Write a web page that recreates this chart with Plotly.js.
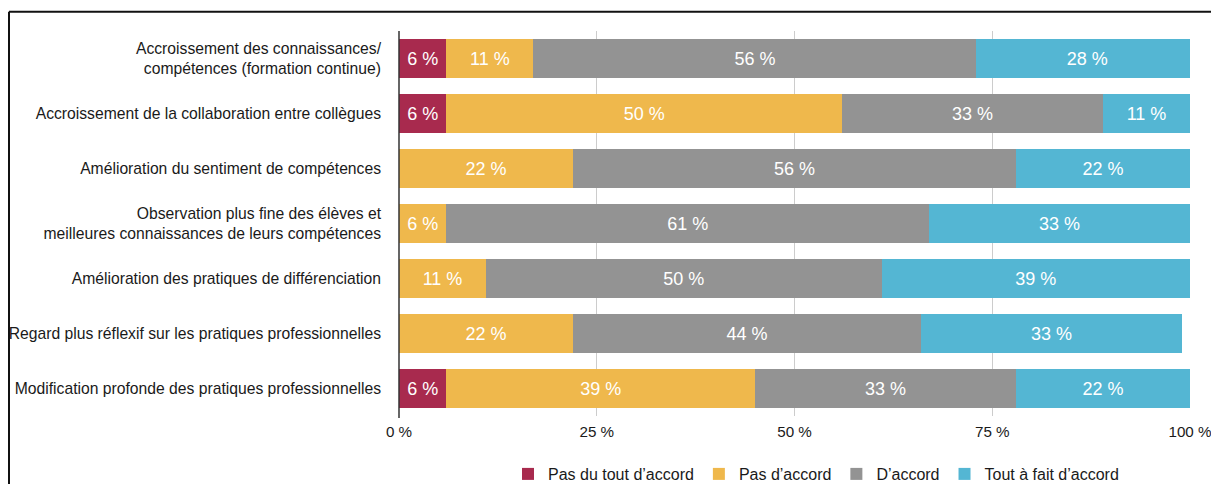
<!DOCTYPE html>
<html>
<head>
<meta charset="utf-8">
<script src="https://cdn.plot.ly/plotly-3.0.1.min.js"></script>
<style>
html,body{margin:0;padding:0;background:#fff;overflow:hidden;}
#chart{width:1211px;height:484px;}
</style>
</head>
<body>
<div id="chart"></div>
<script>
const categories = [
  "Accroissement des connaissances/<br>compétences (formation continue)",
  "Accroissement de la collaboration entre collègues",
  "Amélioration du sentiment de compétences",
  "Observation plus fine des élèves et<br>meilleures connaissances de leurs compétences",
  "Amélioration des pratiques de différenciation",
  "Regard plus réflexif sur les pratiques professionnelles",
  "Modification profonde des pratiques professionnelles"
];
const pasDuTout = [6, 6, null, null, null, null, 6];
const pasDaccord = [11, 50, 22, 6, 11, 22, 39];
const dAccord = [56, 33, 56, 61, 50, 44, 33];
const toutAFait = [28, 11, 22, 33, 39, 33, 22];
const seriesNames = ["Pas du tout d’accord", "Pas d’accord", "D’accord", "Tout à fait d’accord"];
const tickVals = [0, 25, 50, 75, 100];
const tickText = ["0 %", "25 %", "50 %", "75 %", "100 %"];

const colors = ["#A82A4E", "#EFB84C", "#939393", "#54B6D3"];
const seriesData = [pasDuTout, pasDaccord, dAccord, toutAFait];

const traces = seriesData.map((vals, i) => ({
  type: "bar",
  orientation: "h",
  name: seriesNames[i],
  y: categories,
  x: vals,
  text: vals.map(v => v == null ? "" : v + " %"),
  textposition: "inside",
  insidetextanchor: "middle",
  textangle: 0,
  constraintext: "none",
  insidetextfont: {color: "#ffffff", size: 18, family: "Liberation Sans, Arial, sans-serif"},
  marker: {color: colors[i], line: {width: 0}},
  hoverinfo: "skip"
}));

const P = (px) => (px - 399) / 791;
const Q = (py) => (414 - py) / 382;

const layout = {
  width: 1211,
  height: 484,
  margin: {l: 399, r: 21, t: 31, b: 68, autoexpand: false},
  paper_bgcolor: "#ffffff",
  plot_bgcolor: "#ffffff",
  barmode: "stack",
  bargap: 0.3,
  font: {family: "Liberation Sans, Arial, sans-serif", size: 15.7, color: "#1a1a1a"},
  showlegend: true,
  legend: {
    orientation: "h",
    xref: "container", yref: "container",
    x: 816 / 1211, xanchor: "center",
    y: 10 / 484, yanchor: "middle",
    font: {size: 16, color: "#1a1a1a"},
    traceorder: "normal",
    itemclick: false
  },
  xaxis: {
    range: [0, 100],
    tickvals: tickVals,
    ticktext: tickText,
    showgrid: true,
    gridcolor: "#cccccc",
    gridwidth: 1,
    zeroline: false,
    showline: false,
    ticks: "",
    ticklabelstandoff: 5,
    ticklabeloverflow: "allow",
    tickfont: {size: 15.2, color: "#1a1a1a"},
    fixedrange: true
  },
  yaxis: {
    autorange: "reversed",
    type: "category",
    showgrid: false,
    zeroline: false,
    showline: false,
    ticks: "",
    ticklabelstandoff: 17,
    tickfont: {size: 15.7, color: "#1a1a1a"},
    fixedrange: true
  },
  shapes: [
    {type: "line", xref: "paper", yref: "paper", x0: 0, x1: 0, y0: Q(416), y1: 1,
     line: {color: "#333333", width: 1.5}},
    {type: "line", xref: "paper", yref: "paper", x0: P(9), x1: P(1230), y0: Q(13), y1: Q(13),
     line: {color: "#111111", width: 2}},
    {type: "line", xref: "paper", yref: "paper", x0: P(9), x1: P(9), y0: Q(13), y1: Q(500),
     line: {color: "#111111", width: 2}}
  ]
};

Plotly.newPlot("chart", traces, layout, {displayModeBar: false, staticPlot: true});
</script>
</body>
</html>
